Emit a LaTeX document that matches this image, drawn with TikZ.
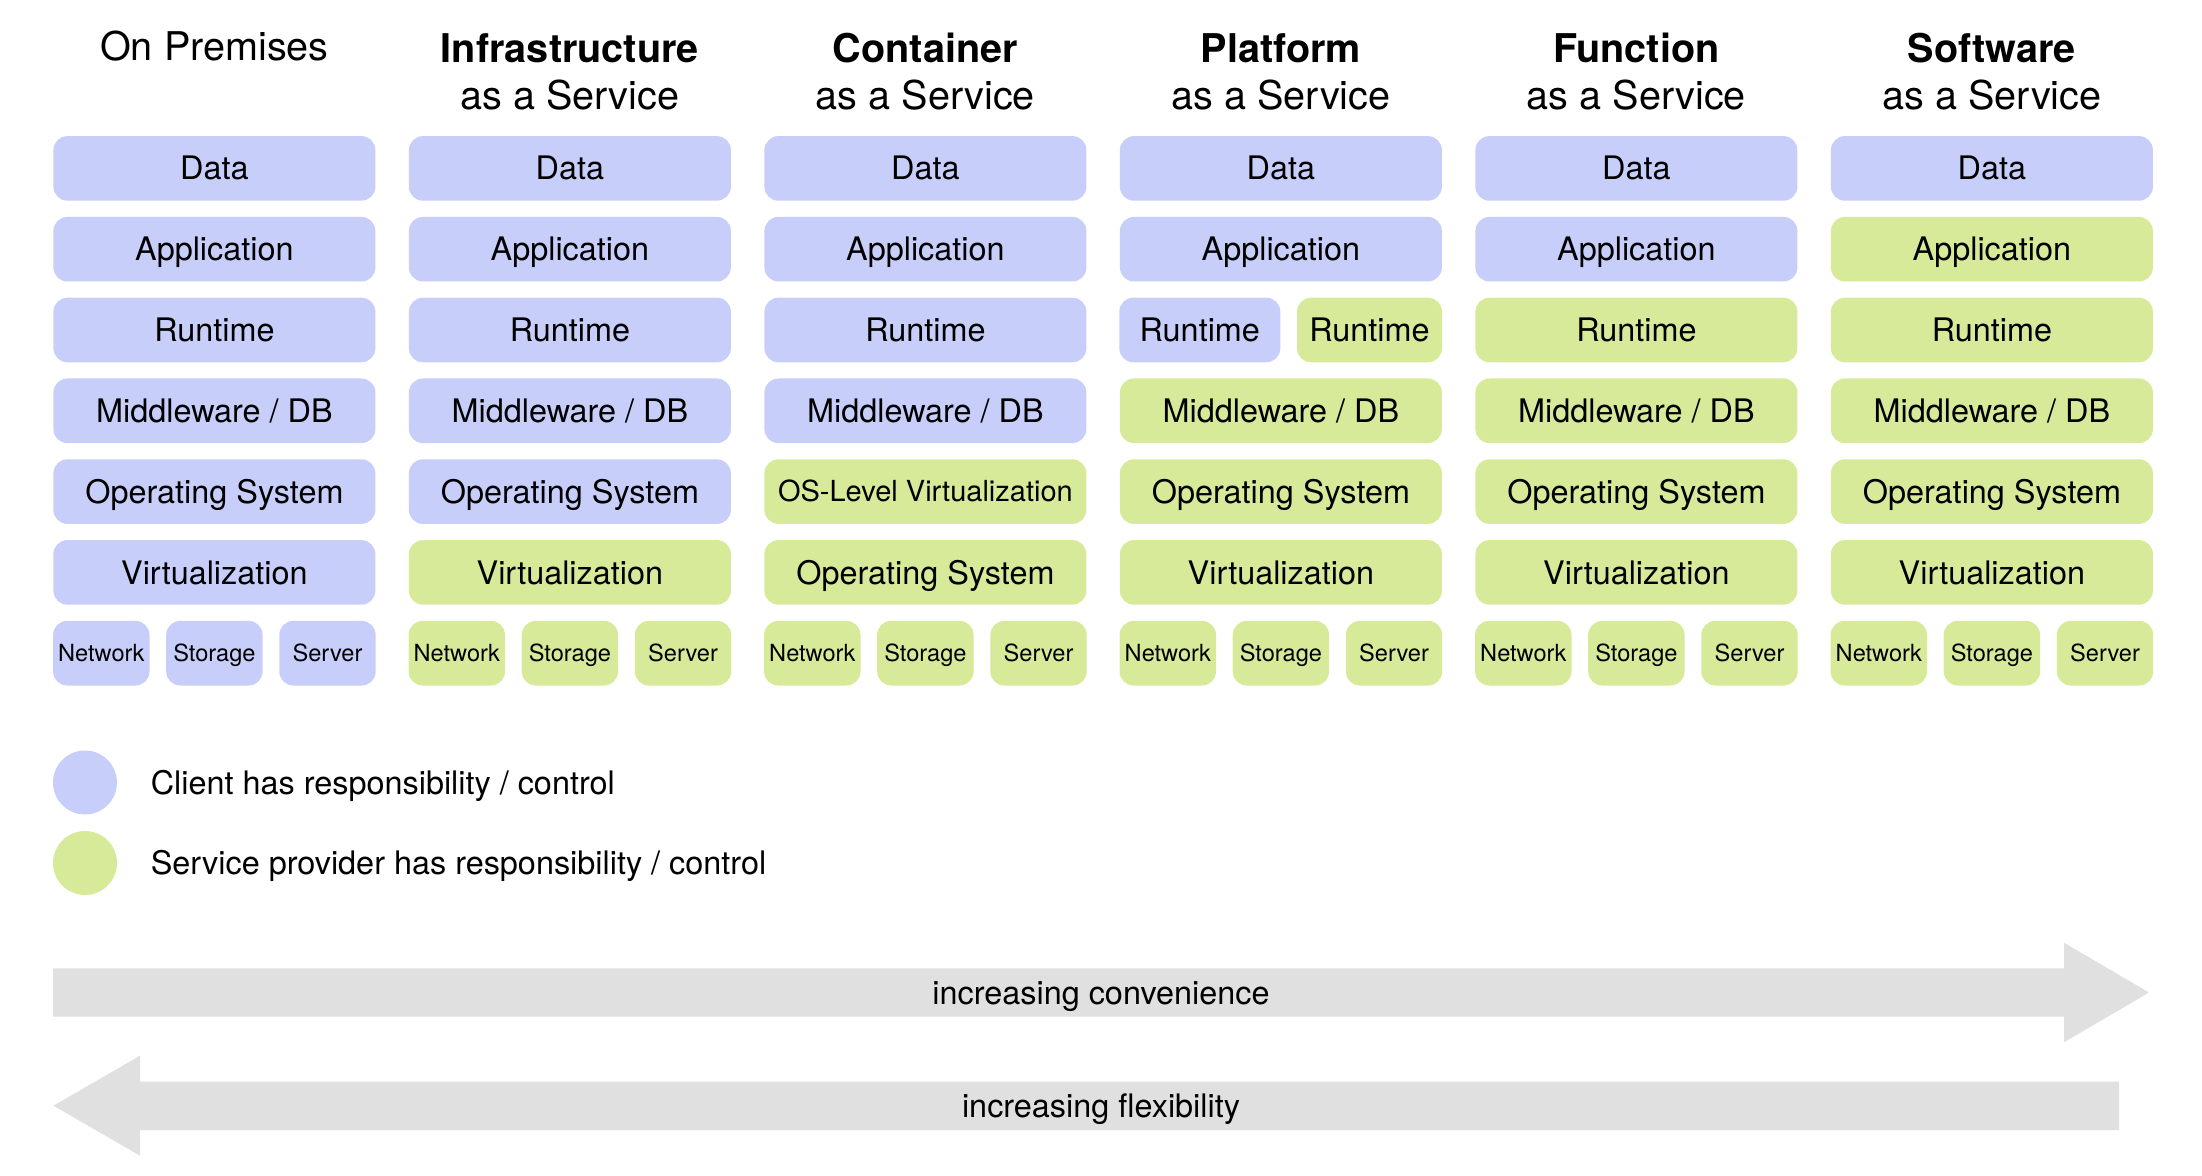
\documentclass[tikz,border=0pt]{standalone}
\usepackage{fontspec}
\setmainfont{TeX Gyre Heros}
\usetikzlibrary{positioning}
\definecolor{clientblue}{HTML}{C8CEFA}
\definecolor{vendorgreen}{HTML}{D6EA9A}
\definecolor{bandgray}{HTML}{E0E0E0}

\begin{document}
\begin{tikzpicture}[x=0.5pt,y=-0.5pt,
  layer/.style={rounded corners=7pt,minimum width=161pt,minimum height=32.3pt,inner sep=0pt,text height=11.6pt,text depth=0pt,font=\fontsize{16.2}{19}\selectfont},
  hw/.style={layer,minimum width=48.2pt,text height=8.5pt,font=\fontsize{11.8}{14}\selectfont},
  head/.style={align=center,anchor=base,inner sep=0pt,font=\fontsize{19.8}{23.5}\selectfont},
  dot/.style={circle,minimum size=32pt,inner sep=0pt},
  note/.style={inner sep=0pt,text height=11.6pt,text depth=0pt,font=\fontsize{16.2}{19}\selectfont},
]
  \useasboundingbox (0,0) rectangle (2202,1176);

  % column headers (anchored on the last line)
  \node[head] (h0) at (214.4,61) {On Premises};
  \node[head] (h1) at (569.9,110) {\textbf{Infrastructure}\\as a Service};
  \node[head] (h2) at (925.4,110) {\textbf{Container}\\as a Service};
  \node[head] (h3) at (1280.9,110) {\textbf{Platform}\\as a Service};
  \node[head] (h4) at (1636.4,110) {\textbf{Function}\\as a Service};
  \node[head] (h5) at (1991.9,110) {\textbf{Software}\\as a Service};

  % stacks: rows above the cut are the client's
  \foreach \col/\cut in {0/7,1/5,2/4,3/2,4/2,5/1} {
    \pgfmathsetmacro\cx{214.4+355.5*\col}
    \foreach \txt [count=\row from 0] in {Data,Application,Runtime,{Middleware / DB},{Operating System},Virtualization} {
      \pgfmathtruncatemacro\odd{(\col==2 && \row>3) || (\col==3 && \row==2)}
      \ifnum\odd=0
        \ifnum\row<\cut \def\tone{clientblue}\else\def\tone{vendorgreen}\fi
        \node[layer,fill=\tone] (c\col-\row) at (\cx,{168.4+80.8*\row}) {\txt};
      \fi
    }
    \ifnum6<\cut \def\tone{clientblue}\else\def\tone{vendorgreen}\fi
    \foreach \hwtxt [count=\k] in {Network,Storage,Server}
      \node[hw,fill=\tone] (c\col-hw\k) at ({\cx+113.1*(\k-2)},653.2) {\hwtxt};
  }

  % container column
  \node[layer,fill=vendorgreen,text height=10.4pt,font=\fontsize{14.5}{17}\selectfont] (c2-4) at (925.4,491.6) {OS-Level Virtualization};
  \node[layer,fill=vendorgreen] (c2-5) at (925.4,572.4) {Operating System};
  % platform runtime is shared
  \node[layer,fill=clientblue,minimum width=80.5pt] (c3-2a) at (1199.8,330) {Runtime};
  \node[layer,fill=vendorgreen,minimum width=72.5pt] (c3-2b) at (1369.5,330) {Runtime};

  % legend
  \node[dot,fill=clientblue] (dotA) at (85,782.5) {};
  \node[note,right=16.5pt of dotA] (keyA) {Client has responsibility / control};
  \node[dot,fill=vendorgreen] (dotB) at (85,863) {};
  \node[note,right=16.5pt of dotB] (keyB) {Service provider has responsibility / control};

  % bands
  \fill[bandgray] (53,968.3) -- (2064,968.3) -- (2064,942.7) -- (2149,992.5) -- (2064,1042.3) -- (2064,1016.7) -- (53,1016.7) -- cycle;
  \node[note] (conv) at (1101,992.5) {increasing convenience};
  \fill[bandgray] (2119,1081.7) -- (140,1081.7) -- (140,1055.7) -- (53.4,1105.7) -- (140,1155.7) -- (140,1130) -- (2119,1130) -- cycle;
  \node[note] (flex) at (1101,1105.8) {increasing flexibility};
\end{tikzpicture}
\end{document}
